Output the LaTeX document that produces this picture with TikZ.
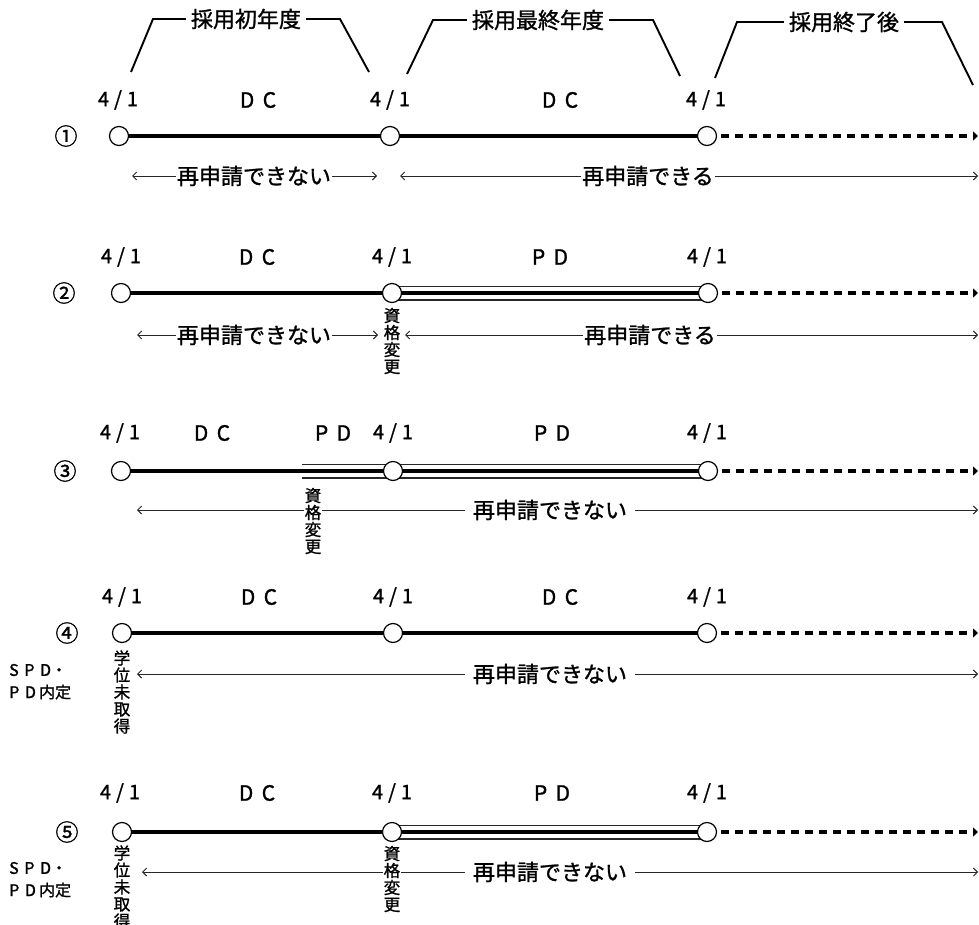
\documentclass[tikz,border=0pt]{standalone}
\usepackage{fontspec}
\setmainfont{Noto Sans CJK JP}[FakeBold=1.2]
\usetikzlibrary{arrows.meta}
\begin{document}
\begin{tikzpicture}[x=1pt,y=-1pt,
  ring/.style={circle,draw,line width=1.2pt,fill=white,minimum size=19pt,inner sep=0pt},
  dcline/.style={line width=3.2pt},
  pdline/.style={line width=15pt,draw=black!85,postaction={draw=white,line width=12pt},postaction={draw=black,line width=3.2pt}},
  postline/.style={line width=3.2pt,dash pattern=on 8pt off 6pt,-{Triangle[length=5pt,width=9pt]}},
  datelab/.style={font=\fontsize{20}{22}\selectfont,inner sep=1pt},
  kindlab/.style={font=\fontsize{21}{22}\selectfont,inner sep=1pt},
  jlab/.style={font=\fontsize{22}{24}\selectfont,inner xsep=1pt,inner ysep=2pt},
  jlabw/.style={font=\fontsize{22}{24}\selectfont,inner xsep=8pt,inner ysep=2pt},
  bklab/.style={font=\fontsize{22}{24}\selectfont,inner xsep=5pt,inner ysep=2pt},
  vlab/.style={font=\fontsize{16.5}{17}\selectfont,align=center,inner xsep=1pt,inner ysep=0pt},
  numlab/.style={font=\fontsize{23}{24}\selectfont,inner sep=0pt},
  sidelab/.style={font=\fontsize{16}{18}\selectfont,anchor=west,inner sep=0pt},
  reline/.style={line width=0.9pt,draw=black!85},
  headr/.style={-{Straight Barb[length=4pt,width=8pt]}},
  brk/.style={line width=1.9pt}
]
\useasboundingbox (0,0) rectangle (979,925);
\fill[white] (0,0) rectangle (979,925);

% ---------- brackets ----------
\node[bklab] (b1) at (246,19) {採用初年度};
\coordinate (b1lt) at (153,19); \coordinate (b1l) at (131,72);
\coordinate (b1rt) at (340,19); \coordinate (b1r) at (369,72);
\draw[brk] (b1.west) -- (b1lt) -- (b1l);
\draw[brk] (b1.east) -- (b1rt) -- (b1r);

\node[bklab] (b2) at (538,20) {採用最終年度};
\coordinate (b2lt) at (433,20); \coordinate (b2l) at (407,74);
\coordinate (b2rt) at (653,20); \coordinate (b2r) at (680,76);
\draw[brk] (b2.west) -- (b2lt) -- (b2l);
\draw[brk] (b2.east) -- (b2rt) -- (b2r);

\node[bklab] (b3) at (844,22) {採用終了後};
\coordinate (b3lt) at (737,22); \coordinate (b3l) at (715,78);
\coordinate (b3rt) at (942,22); \coordinate (b3r) at (973,85);
\draw[brk] (b3.west) -- (b3lt) -- (b3l);
\draw[brk] (b3.east) -- (b3rt) -- (b3r);

% ---------- row 1 ----------
\coordinate (p11) at (119,136); \coordinate (p12) at (390,136);
\coordinate (p13) at (707,136); \coordinate (e1) at (978,136);
\draw[dcline] (p11) -- (p12) -- (p13);
\draw[postline] (p13) -- (e1);
\node[ring] (c11) at (p11) {}; \node[ring] (c12) at (p12) {}; \node[ring] (c13) at (p13) {};
\node[numlab] (n1) at (66,136) {①};
\node[datelab] (d11) at (118,100) {4\hspace{0.25em}/\hspace{0.25em}1};
\node[datelab] (d12) at (390,100) {4\hspace{0.25em}/\hspace{0.25em}1};
\node[datelab] (d13) at (706,100) {4\hspace{0.25em}/\hspace{0.25em}1};
\node[kindlab] (k11) at (258,100) {D\hspace{0.4em}C};
\node[kindlab] (k12) at (560,100) {D\hspace{0.4em}C};
\node[jlab] (r11) at (254,176) {再申請できない};
\coordinate (a11) at (132,176); \coordinate (a12) at (377,176);
\draw[reline,headr] (r11) -- (a11);
\draw[reline,headr] (r11) -- (a12);
\node[jlab] (r12) at (648,176) {再申請できる};
\coordinate (a13) at (400,176); \coordinate (a14) at (978,176);
\draw[reline,headr] (r12) -- (a13);
\draw[reline,headr] (r12) -- (a14);

% ---------- row 2 ----------
\coordinate (p21) at (121,293); \coordinate (p22) at (392,293);
\coordinate (p23) at (708,293); \coordinate (e2) at (978,293);
\draw[dcline] (p21) -- (p22);
\draw[pdline] (p22) -- (p23);
\draw[postline] (p23) -- (e2);
\node[ring] (c21) at (p21) {}; \node[ring] (c22) at (p22) {}; \node[ring] (c23) at (p23) {};
\node[numlab] (n2) at (64,293) {②};
\node[datelab] (d21) at (121,257) {4\hspace{0.25em}/\hspace{0.25em}1};
\node[datelab] (d22) at (392,257) {4\hspace{0.25em}/\hspace{0.25em}1};
\node[datelab] (d23) at (707,257) {4\hspace{0.25em}/\hspace{0.25em}1};
\node[kindlab] (k21) at (257,257) {D\hspace{0.4em}C};
\node[kindlab] (k22) at (550,257) {P\hspace{0.4em}D};
\node[vlab] (v21) at (392,341) {資\\格\\変\\更};
\node[jlab] (r21) at (254,335) {再申請できない};
\coordinate (a21) at (137,335); \coordinate (a22) at (378,335);
\draw[reline,headr] (r21) -- (a21);
\draw[reline,headr] (r21) -- (a22);
\node[jlab] (r22) at (650,335) {再申請できる};
\coordinate (a23) at (405,335); \coordinate (a24) at (978,335);
\draw[reline,headr] (r22) -- (a23);
\draw[reline,headr] (r22) -- (a24);

% ---------- row 3 ----------
\coordinate (p31) at (121,471); \coordinate (q3) at (302,471);
\coordinate (p32) at (393,471); \coordinate (p33) at (708,471);
\coordinate (e3) at (978,471);
\draw[dcline] (p31) -- (q3);
\draw[pdline] (q3) -- (p33);
\draw[postline] (p33) -- (e3);
\node[ring] (c31) at (p31) {}; \node[ring] (c32) at (p32) {}; \node[ring] (c33) at (p33) {};
\node[numlab] (n3) at (65,471) {③};
\node[datelab] (d31) at (120,433) {4\hspace{0.25em}/\hspace{0.25em}1};
\node[kindlab] (k31) at (212,433) {D\hspace{0.4em}C};
\node[kindlab] (k32) at (333,433) {P\hspace{0.4em}D};
\node[datelab] (d32) at (393,433) {4\hspace{0.25em}/\hspace{0.25em}1};
\node[kindlab] (k33) at (552,433) {P\hspace{0.4em}D};
\node[datelab] (d33) at (707,433) {4\hspace{0.25em}/\hspace{0.25em}1};
\node[vlab] (v31) at (313,521) {資\\格\\変\\更};
\node[jlabw] (r31) at (550,510) {再申請できない};
\coordinate (a31) at (137,510); \coordinate (a32) at (978,510);
\draw[reline,headr] (v31.west |- a31) -- (a31);
\draw[reline] (v31.east |- a31) -- (r31.west);
\draw[reline,headr] (r31) -- (a32);

% ---------- row 4 ----------
\coordinate (p41) at (122,633); \coordinate (p42) at (393,633);
\coordinate (p43) at (707,633); \coordinate (e4) at (978,633);
\draw[dcline] (p41) -- (p42) -- (p43);
\draw[postline] (p43) -- (e4);
\node[ring] (c41) at (p41) {}; \node[ring] (c42) at (p42) {}; \node[ring] (c43) at (p43) {};
\node[numlab] (n4) at (67,633) {④};
\node[sidelab] (s41) at (9,670) {S\hspace{0.35em}P\hspace{0.35em}D・};
\node[sidelab] (s42) at (9,692) {P\hspace{0.35em}D\hspace{0.2em}内定};
\node[datelab] (d41) at (122,597) {4\hspace{0.25em}/\hspace{0.25em}1};
\node[datelab] (d42) at (393,597) {4\hspace{0.25em}/\hspace{0.25em}1};
\node[datelab] (d43) at (707,597) {4\hspace{0.25em}/\hspace{0.25em}1};
\node[kindlab] (k41) at (259,597) {D\hspace{0.4em}C};
\node[kindlab] (k42) at (560,597) {D\hspace{0.4em}C};
\node[vlab] (v41) at (122,692) {学\\位\\未\\取\\得};
\node[jlabw] (r41) at (550,674) {再申請できない};
\coordinate (a41) at (137,674); \coordinate (a42) at (978,674);
\draw[reline,headr] (r41) -- (a41);
\draw[reline,headr] (r41) -- (a42);

% ---------- row 5 ----------
\coordinate (p51) at (122,832); \coordinate (p52) at (392,832);
\coordinate (p53) at (707,832); \coordinate (e5) at (978,832);
\draw[dcline] (p51) -- (p52);
\draw[pdline] (p52) -- (p53);
\draw[postline] (p53) -- (e5);
\node[ring] (c51) at (p51) {}; \node[ring] (c52) at (p52) {}; \node[ring] (c53) at (p53) {};
\node[numlab] (n5) at (67,832) {⑤};
\node[sidelab] (s51) at (9,868) {S\hspace{0.35em}P\hspace{0.35em}D・};
\node[sidelab] (s52) at (9,890) {P\hspace{0.35em}D\hspace{0.2em}内定};
\node[datelab] (d51) at (120,793) {4\hspace{0.25em}/\hspace{0.25em}1};
\node[datelab] (d52) at (392,793) {4\hspace{0.25em}/\hspace{0.25em}1};
\node[datelab] (d53) at (707,793) {4\hspace{0.25em}/\hspace{0.25em}1};
\node[kindlab] (k51) at (257,793) {D\hspace{0.4em}C};
\node[kindlab] (k52) at (552,793) {P\hspace{0.4em}D};
\node[vlab] (v51) at (122,887) {学\\位\\未\\取\\得};
\node[vlab] (v52) at (392,879) {資\\格\\変\\更};
\node[jlabw] (r51) at (550,872) {再申請できない};
\coordinate (a51) at (142,872); \coordinate (a52) at (978,872);
\draw[reline,headr] (v52.west |- a51) -- (a51);
\draw[reline] (v52.east |- a51) -- (r51.west);
\draw[reline,headr] (r51) -- (a52);
\end{tikzpicture}
\end{document}
